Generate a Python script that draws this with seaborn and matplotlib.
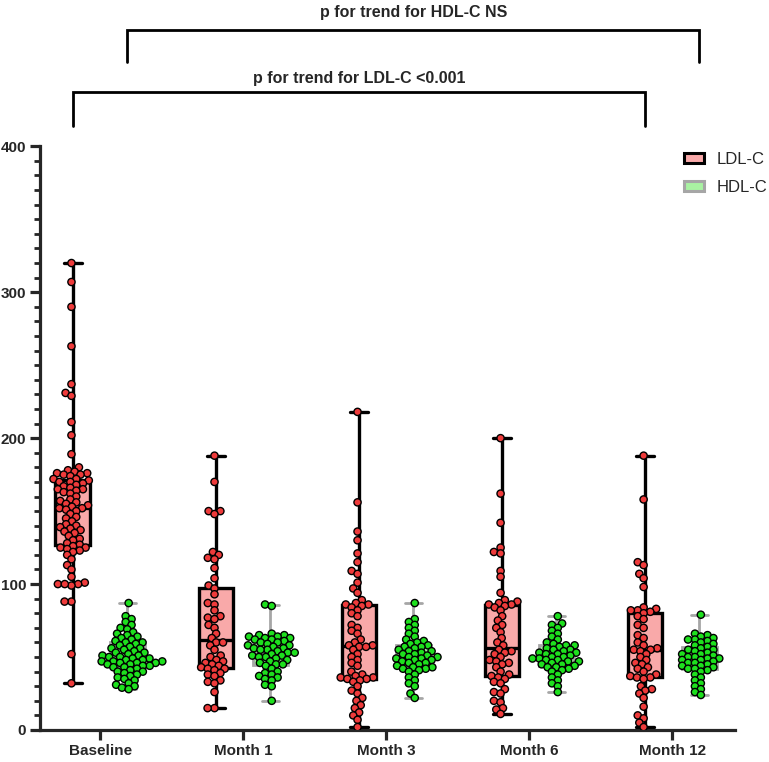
import numpy as np
import pandas as pd
import matplotlib
matplotlib.use("Agg")
import matplotlib.pyplot as plt
import seaborn as sns
from matplotlib.patches import Patch
from matplotlib.ticker import MultipleLocator
from matplotlib.transforms import blended_transform_factory

# values (mg/dL)
visits = ["Baseline", "Month 1", "Month 3", "Month 6", "Month 12"]
lipids = ["LDL-C", "HDL-C"]

ldl_baseline = [320, 307, 290, 263, 237, 231, 229, 211, 202, 189,
                180, 178, 177, 176, 176, 175, 175, 174, 172, 172, 171, 170, 170, 169,
                168, 167, 166, 165, 165, 164, 163, 162, 160, 158, 157, 156, 155, 154,
                153, 152, 152, 151, 150, 148, 146, 145, 143, 141, 140, 139, 138, 137,
                136, 135, 133, 131, 130, 128, 127, 126, 125, 125, 124, 123, 122, 120,
                117, 113, 110, 105, 101, 100, 100, 99, 100, 88, 88, 52, 32]
hdl_baseline = [87, 78, 76, 74, 72, 70, 69, 67, 66, 65, 64, 63, 62, 61, 60, 60, 59, 58,
                57, 56, 56, 55, 54, 53, 53, 52, 51, 51, 50, 50, 49, 49, 48, 48, 47, 47,
                47, 46, 46, 46, 45, 45, 44, 44, 43, 43, 42, 41, 40, 40, 39, 38, 37, 36,
                35, 34, 32, 31, 30, 29, 28]

ldl_m1 = [188, 170, 150, 150, 148, 122, 120, 118, 117, 111, 104, 99, 97, 93, 87, 86,
          82, 78, 77, 76, 72, 70, 66, 63, 60, 60, 58, 55, 51, 50, 48, 47, 46, 45, 44,
          43, 42, 42, 41, 39, 38, 37, 34, 33, 32, 26, 15, 15]
hdl_m1 = [86, 85, 66, 65, 65, 64, 64, 63, 63, 62, 62, 61, 60, 60, 59, 58, 58, 57, 56,
          56, 55, 55, 54, 53, 53, 52, 51, 51, 50, 50, 49, 48, 47, 46, 45, 45, 44, 42,
          40, 39, 38, 37, 36, 35, 34, 31, 30, 20]

ldl_m3 = [218, 156, 136, 130, 121, 115, 109, 107, 101, 97, 94, 89, 87, 86, 86, 85, 84,
          82, 80, 78, 72, 70, 68, 66, 62, 60, 58, 58, 57, 57, 55, 52, 50, 48, 46, 44,
          40, 38, 37, 36, 36, 35, 35, 34, 33, 30, 27, 25, 22, 20, 17, 15, 12, 10, 7, 2]
hdl_m3 = [87, 76, 74, 72, 70, 68, 66, 64, 62, 61, 60, 59, 58, 57, 57, 56, 55, 54, 54,
          53, 52, 52, 51, 50, 50, 49, 49, 48, 48, 47, 46, 46, 45, 44, 43, 43, 42, 42,
          41, 40, 38, 36, 34, 32, 30, 25, 22]

ldl_m6 = [200, 162, 142, 125, 122, 121, 109, 105, 94, 89, 88, 87, 86, 86, 85, 84, 82,
          78, 75, 72, 70, 67, 63, 60, 58, 55, 54, 53, 52, 50, 48, 47, 46, 45, 43, 40,
          38, 37, 36, 35, 33, 32, 28, 26, 25, 20, 19, 15, 14, 11]
hdl_m6 = [78, 73, 72, 70, 68, 66, 64, 62, 60, 59, 58, 58, 57, 56, 55, 55, 54, 53, 53,
          52, 52, 51, 50, 50, 49, 49, 48, 48, 47, 47, 46, 45, 45, 44, 43, 43, 42, 41,
          40, 38, 36, 34, 32, 30, 26]

ldl_m12 = [188, 158, 115, 113, 107, 104, 98, 84, 83, 82, 82, 81, 80, 78, 76, 72, 70,
           65, 63, 60, 58, 56, 55, 55, 54, 52, 50, 48, 46, 45, 43, 42, 40, 38, 37, 36,
           36, 35, 30, 28, 27, 25, 22, 16, 10, 8, 5, 2]
hdl_m12 = [79, 66, 65, 64, 63, 62, 62, 61, 60, 59, 58, 57, 56, 55, 55, 54, 53, 52, 52,
           51, 50, 50, 49, 49, 48, 48, 47, 46, 46, 45, 44, 44, 43, 42, 42, 41, 40, 38,
           36, 34, 32, 30, 28, 26, 24]

trend_ldl = "p for trend for LDL-C <0.001"
trend_hdl = "p for trend for HDL-C NS"

# long table for seaborn
ldl_all = [ldl_baseline, ldl_m1, ldl_m3, ldl_m6, ldl_m12]
hdl_all = [hdl_baseline, hdl_m1, hdl_m3, hdl_m6, hdl_m12]
rows = []
for v, ldl, hdl in zip(visits, ldl_all, hdl_all):
    rows += [(v, "LDL-C", x) for x in ldl]
    rows += [(v, "HDL-C", x) for x in hdl]
df = pd.DataFrame(rows, columns=["visit", "lipid", "value"])

box_fill = {"LDL-C": "#F9A9A9", "HDL-C": "#A9F2A2"}
box_edge = {"LDL-C": "black", "HDL-C": "#A6A6A6"}
dot_color = {"LDL-C": "#EE3B3B", "HDL-C": "#1EE01E"}

sns.set_style("ticks")
plt.rcParams["font.family"] = ["Liberation Sans", "DejaVu Sans"]

fig = plt.figure(figsize=(7.69, 7.62), dpi=100)
ax = fig.add_axes([0.052, 0.042, 0.904, 0.766])

for lip in lipids:
    lw = 2.4 if lip == "LDL-C" else 2.0
    sns.boxplot(data=df[df["lipid"] == lip], x="visit", y="value", hue="lipid",
                order=visits, hue_order=lipids, palette=box_fill, dodge=True,
                width=0.76, gap=0.36, whis=(0, 100), showfliers=False,
                linecolor=box_edge[lip], linewidth=lw, saturation=1,
                legend=False, ax=ax)

# swarm laid out with small dots, then dots enlarged so they overlap a bit
# like the GraphPad original
n_before = len(ax.collections)
sns.swarmplot(data=df, x="visit", y="value", hue="lipid", order=visits,
              hue_order=lipids, palette=dot_color, dodge=True, size=3.6,
              edgecolor="black", linewidth=1.0, warn_thresh=1, legend=False, ax=ax)
swarms = ax.collections[n_before:]
fig.canvas.draw()
for coll in swarms:
    if "draw" in coll.__dict__:
        del coll.draw
    coll.set_sizes([5.2 ** 2])

ax.set_xlim(-0.42, 4.44)
ax.set_ylim(0, 400)
ax.yaxis.set_major_locator(MultipleLocator(100))
ax.yaxis.set_minor_locator(MultipleLocator(10))
ax.set_xlabel("")
ax.set_ylabel("")
sns.despine(ax=ax)
for s in ["left", "bottom"]:
    ax.spines[s].set_linewidth(2.3)
ax.tick_params(axis="both", which="major", length=7, width=2.3,
               labelsize=11, pad=3)
ax.tick_params(axis="y", which="minor", length=4.5, width=2)
for lab in ax.get_xticklabels() + ax.get_yticklabels():
    lab.set_fontweight("bold")

# trend brackets: x at the dodged box centres, y in figure space
tr = blended_transform_factory(ax.transData, fig.transFigure)
off = 0.19
brackets = [(trend_ldl, -off, len(visits) - 1 - off, 0.879, 0.835, 0.887),
            (trend_hdl, off, len(visits) - 1 + off, 0.961, 0.919, 0.974)]
for txt, x0, x1, ytop, ybot, ytxt in brackets:
    ax.plot([x0, x0, x1, x1], [ybot, ytop, ytop, ybot], color="black", lw=2.0,
            transform=tr, clip_on=False, solid_joinstyle="miter")
    ax.text((x0 + x1) / 2, ytxt, txt, transform=tr, ha="center", va="bottom",
            fontsize=11.5, fontweight="bold")

handles = [Patch(facecolor=box_fill[l], edgecolor=box_edge[l], linewidth=2.2, label=l)
           for l in lipids]
fig.legend(handles=handles, loc="upper right", bbox_to_anchor=(1.018, 0.82),
           frameon=False, fontsize=12, handlelength=1.2, handleheight=0.55,
           labelspacing=0.75, handletextpad=0.8)

fig.savefig("out.png", dpi=100)
